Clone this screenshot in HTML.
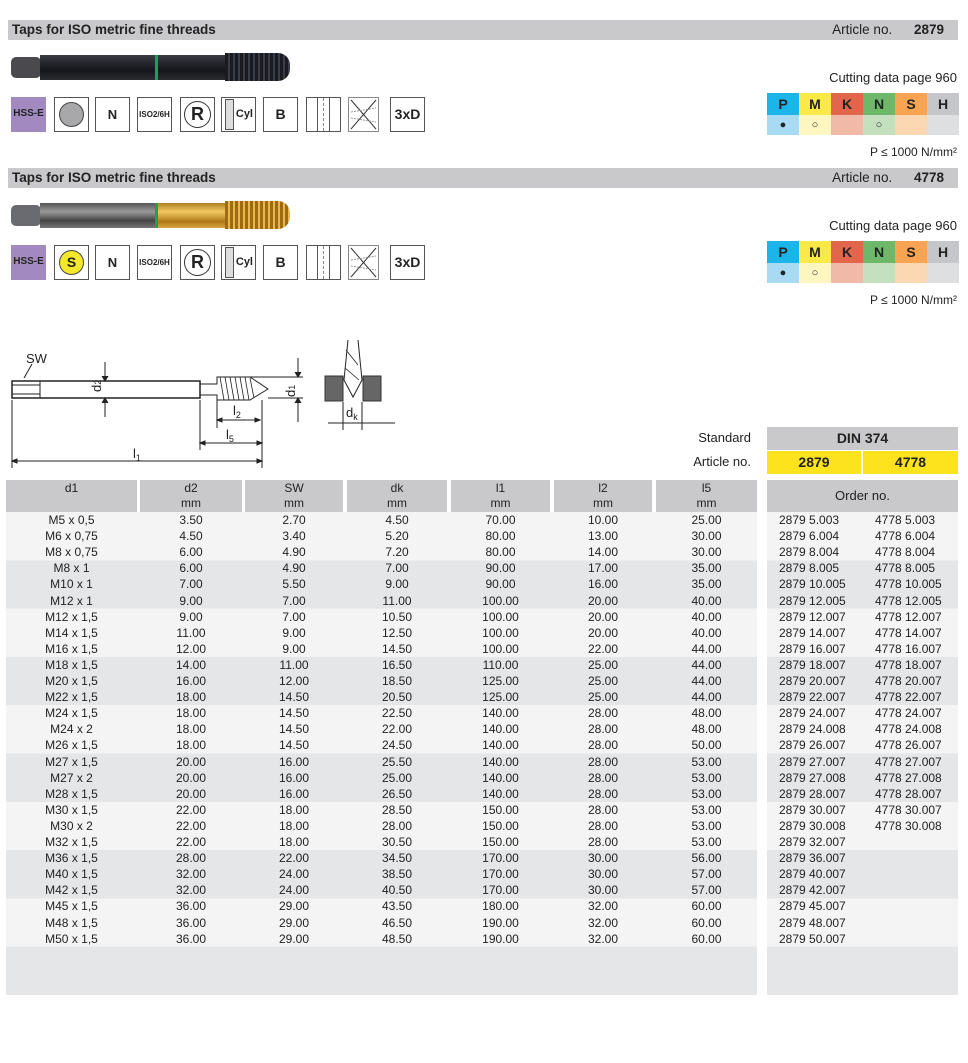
<!DOCTYPE html>
<html><head><meta charset="utf-8">
<style>
*{margin:0;padding:0;box-sizing:border-box}
body{width:968px;height:1063px;background:#fff;position:relative;font-family:"Liberation Sans",Arial,sans-serif;color:#222;overflow:hidden}
.a{position:absolute}
.bar{position:absolute;left:8px;width:950px;height:20px;background:#c9c9cb;font-size:13.5px;font-weight:bold;line-height:20px;padding-left:4px}
.bar span.r{position:absolute;right:14px;top:0;font-weight:normal}
.bar b{margin-left:18px}
.ic{position:absolute;width:35px;height:35px;border:1px solid #555;background:#fff;font-size:13px;font-weight:bold;text-align:center;line-height:33px}
.pm{position:absolute;left:767px;width:192px;height:42px}
.pm .c{position:absolute;width:32px;height:22px;text-align:center;font-weight:bold;font-size:14px;line-height:22px;top:0}
.pm .d{position:absolute;width:32px;height:20px;top:22px;text-align:center;font-size:11px;line-height:20px}
.cd{position:absolute;right:11px;font-size:13px}
.row{position:absolute;left:6px;width:751px;height:16.1px;font-size:12px;line-height:16px}
.row span{position:absolute;top:0;text-align:center}
.ord{position:absolute;left:767px;width:191px;height:16.1px;font-size:12px;line-height:16px}
.ord span{position:absolute;top:0}
.hd{position:absolute;top:480px;height:32px;background:#c9c9cb;font-size:12px;text-align:center;line-height:15px;padding-top:1px}
</style></head><body>

<div class="bar" style="top:20px">Taps for ISO metric fine threads<span class="r">Article no. <b>2879</b></span></div>
<div class="bar" style="top:168px">Taps for ISO metric fine threads<span class="r">Article no. <b>4778</b></span></div>

<div class="a" style="left:11px;top:57px;width:30px;height:21px;background:#4a4a4e;border-radius:5px"></div>
<div class="a" style="left:40px;top:55px;width:185px;height:25px;background:linear-gradient(#3a3c44,#15161a 60%,#2a2b30)"></div>
<div class="a" style="left:155px;top:55px;width:3px;height:25px;background:#1ea14a"></div>
<div class="a" style="left:225px;top:53px;width:65px;height:28px;background:repeating-linear-gradient(90deg,#1a1b20 0 3px,#3a3c48 3px 5px);border-radius:0 12px 12px 0"></div>

<div class="a" style="left:11px;top:205px;width:30px;height:21px;background:#6a6b70;border-radius:5px"></div>
<div class="a" style="left:40px;top:203px;width:118px;height:25px;background:linear-gradient(#555,#9a9a9a 35%,#444 70%,#777)"></div>
<div class="a" style="left:155px;top:203px;width:3px;height:25px;background:#1ea14a"></div>
<div class="a" style="left:158px;top:203px;width:67px;height:25px;background:linear-gradient(#b08020,#f0c860 35%,#b07818 75%,#d8a840)"></div>
<div class="a" style="left:225px;top:201px;width:65px;height:28px;background:repeating-linear-gradient(90deg,#a06a10 0 3px,#e6b850 3px 5px);border-radius:0 12px 12px 0"></div>

<div class="ic" style="left:11px;top:97px;background:#a28ac0;border:none;font-size:10px">HSS-E</div>
<div class="ic" style="left:54px;top:97px"><div style="width:25px;height:25px;border-radius:50%;background:#a8a8aa;border:1px solid #444;margin:4px auto"></div></div>
<div class="ic" style="left:95px;top:97px">N</div>
<div class="ic" style="left:137px;top:97px;font-size:8px">ISO2/6H</div>
<div class="ic" style="left:180px;top:97px;font-size:18px"><div style="width:27px;height:27px;border:1px solid #333;border-radius:50%;margin:3px auto;line-height:25px">R</div></div>
<div class="ic" style="left:221px;top:97px;font-size:11px;text-align:right;padding-right:2px"><div style="position:absolute;left:3px;top:1px;width:9px;height:31px;border:1px solid #555;background:#ddd"></div>Cyl</div>
<div class="ic" style="left:263px;top:97px;font-size:14px">B</div>
<div class="ic" style="left:306px;top:97px"><div style="position:absolute;left:10px;top:0;width:13px;height:33px;border-left:1px solid #555;border-right:1px solid #555"></div><div style="position:absolute;left:16px;top:0;height:33px;border-left:1px dashed #888"></div></div>
<div class="ic" style="left:348px;top:97px;width:31px;border-color:#888"><svg width="29" height="33"><line x1="2" y1="2" x2="27" y2="31" stroke="#333"/><line x1="27" y1="2" x2="2" y2="31" stroke="#333"/><line x1="2" y1="14" x2="27" y2="10" stroke="#999" stroke-dasharray="2,1"/><line x1="2" y1="20" x2="27" y2="24" stroke="#999" stroke-dasharray="2,1"/></svg></div>
<div class="ic" style="left:390px;top:97px;font-size:14px">3xD</div>

<div class="ic" style="left:11px;top:245px;background:#a28ac0;border:none;font-size:10px">HSS-E</div>
<div class="ic" style="left:54px;top:245px"><div style="width:25px;height:25px;border-radius:50%;background:#f5e82a;border:1px solid #444;margin:4px auto;line-height:23px;font-size:14px">S</div></div>
<div class="ic" style="left:95px;top:245px">N</div>
<div class="ic" style="left:137px;top:245px;font-size:8px">ISO2/6H</div>
<div class="ic" style="left:180px;top:245px;font-size:18px"><div style="width:27px;height:27px;border:1px solid #333;border-radius:50%;margin:3px auto;line-height:25px">R</div></div>
<div class="ic" style="left:221px;top:245px;font-size:11px;text-align:right;padding-right:2px"><div style="position:absolute;left:3px;top:1px;width:9px;height:31px;border:1px solid #555;background:#ddd"></div>Cyl</div>
<div class="ic" style="left:263px;top:245px;font-size:14px">B</div>
<div class="ic" style="left:306px;top:245px"><div style="position:absolute;left:10px;top:0;width:13px;height:33px;border-left:1px solid #555;border-right:1px solid #555"></div><div style="position:absolute;left:16px;top:0;height:33px;border-left:1px dashed #888"></div></div>
<div class="ic" style="left:348px;top:245px;width:31px;border-color:#888"><svg width="29" height="33"><line x1="2" y1="2" x2="27" y2="31" stroke="#333"/><line x1="27" y1="2" x2="2" y2="31" stroke="#333"/><line x1="2" y1="14" x2="27" y2="10" stroke="#999" stroke-dasharray="2,1"/><line x1="2" y1="20" x2="27" y2="24" stroke="#999" stroke-dasharray="2,1"/></svg></div>
<div class="ic" style="left:390px;top:245px;font-size:14px">3xD</div>

<div class="cd" style="top:70px">Cutting data page 960</div>
<div class="pm" style="top:93px">
<div class="c" style="left:0;background:#1bb5ea">P</div><div class="c" style="left:32px;background:#fbe94a">M</div><div class="c" style="left:64px;background:#e2664c">K</div><div class="c" style="left:96px;background:#6db86a">N</div><div class="c" style="left:128px;background:#f8a452">S</div><div class="c" style="left:160px;background:#c5c6c9">H</div>
<div class="d" style="left:0;background:#a9daf3">●</div><div class="d" style="left:32px;background:#fdf6c0">○</div><div class="d" style="left:64px;background:#f0b9a8"></div><div class="d" style="left:96px;background:#c4e0bf">○</div><div class="d" style="left:128px;background:#fcd8b2"></div><div class="d" style="left:160px;background:#dedfe1"></div>
</div>
<div class="cd" style="top:145px;font-size:12px">P ≤ 1000 N/mm²</div>

<div class="cd" style="top:218px">Cutting data page 960</div>
<div class="pm" style="top:241px">
<div class="c" style="left:0;background:#1bb5ea">P</div><div class="c" style="left:32px;background:#fbe94a">M</div><div class="c" style="left:64px;background:#e2664c">K</div><div class="c" style="left:96px;background:#6db86a">N</div><div class="c" style="left:128px;background:#f8a452">S</div><div class="c" style="left:160px;background:#c5c6c9">H</div>
<div class="d" style="left:0;background:#a9daf3">●</div><div class="d" style="left:32px;background:#fdf6c0">○</div><div class="d" style="left:64px;background:#f0b9a8"></div><div class="d" style="left:96px;background:#c4e0bf"></div><div class="d" style="left:128px;background:#fcd8b2"></div><div class="d" style="left:160px;background:#dedfe1"></div>
</div>
<div class="cd" style="top:293px;font-size:12px">P ≤ 1000 N/mm²</div>

<svg class="a" style="left:0;top:340px" width="400" height="130" font-family="Liberation Sans,sans-serif" font-size="13" fill="none" stroke="#222" stroke-width="1">
<path d="M12 41 H200 V58 H12 Z" stroke-width="1.5"/>
<path d="M12 45 H40 M12 54 H40 M40 41 V58"/>
<path d="M200 44 H217 V37 H250 L268 49 L250 60 H217 V55 H200"/>
<g stroke-width="0.8"><path d="M220 37 L224 60 M225 37 L229 60 M230 37 L234 60 M235 37 L239 60 M240 37 L244 60 M245 37 L249 60 M250 38 L254 58"/></g>
<path d="M105 22 V40 M105 59 V77"/><path d="M102 36 L105 41 L108 36 M102 63 L105 58 L108 63" fill="#222"/>
<path d="M250 37 H303 M268 58 H303 M298 18 V37 M298 58 V82"/>
<path d="M295 32 L298 37 L301 32 M295 63 L298 58 L301 63" fill="#222"/>
<path d="M12 60 V128 M262 60 V128 M200 60 V110 M217 60 V88"/>
<path d="M217 80 H260 M200 103 H262 M12 121 H262"/>
<path d="M217 80 l5 -2 v4 z M260 80 l-5 -2 v4 z M200 103 l5 -2 v4 z M262 103 l-5 -2 v4 z M12 121 l5 -2 v4 z M262 121 l-5 -2 v4 z" fill="#222"/>
<path d="M24 38 L32 24"/>
<g fill="#222" stroke="none"><text x="26" y="23">SW</text><text x="101" y="52" transform="rotate(-90 101 52)">d<tspan font-size="9">2</tspan></text>
<text x="295" y="57" transform="rotate(-90 295 57)">d<tspan font-size="9">1</tspan></text>
<text x="233" y="75">l<tspan font-size="9" dy="3">2</tspan></text><text x="226" y="99">l<tspan font-size="9" dy="3">5</tspan></text><text x="133" y="118">l<tspan font-size="9" dy="3">1</tspan></text>
<text x="346" y="77">d<tspan font-size="9" dy="3">k</tspan></text></g>
<rect x="325" y="36" width="18" height="25" fill="#666" stroke="#333"/><rect x="363" y="36" width="18" height="25" fill="#666" stroke="#333"/>
<path d="M343 62 V90 M362 62 V90 M328 83 H395"/>
<path d="M348 0 L344 40 L353 57 L362 40 L358 0" stroke-width="1"/>
<path d="M346 10 L358 25 M345 28 L359 40" stroke-width="0.8"/>
</svg>

<div class="a" style="left:600px;top:430px;width:151px;text-align:right;font-size:13px">Standard</div>
<div class="a" style="left:600px;top:454px;width:151px;text-align:right;font-size:13px">Article no.</div>
<div class="a" style="left:767px;top:427px;width:191px;height:23px;background:#c9c9cb;text-align:center;font-weight:bold;font-size:14px;line-height:23px">DIN 374</div>
<div class="a" style="left:767px;top:451px;width:94px;height:23px;background:#fde21e;text-align:center;font-weight:bold;font-size:14px;line-height:23px">2879</div>
<div class="a" style="left:863px;top:451px;width:95px;height:23px;background:#fde21e;text-align:center;font-weight:bold;font-size:14px;line-height:23px">4778</div>

<div class="hd" style="left:6px;width:131px">d1</div>
<div class="hd" style="left:140px;width:102px">d2<br>mm</div>
<div class="hd" style="left:245px;width:98px">SW<br>mm</div>
<div class="hd" style="left:347px;width:100px">dk<br>mm</div>
<div class="hd" style="left:451px;width:99px">l1<br>mm</div>
<div class="hd" style="left:554px;width:98px">l2<br>mm</div>
<div class="hd" style="left:656px;width:101px">l5<br>mm</div>
<div class="hd" style="left:767px;width:191px;line-height:30px;font-size:13px">Order no.</div>

<div class="a" style="left:6px;top:512px;width:751px;height:435px;background:repeating-linear-gradient(#f4f4f5 0 48.3px,#e5e6e8 48.3px 96.6px)"></div>
<div class="a" style="left:767px;top:512px;width:191px;height:435px;background:repeating-linear-gradient(#f4f4f5 0 48.3px,#e5e6e8 48.3px 96.6px)"></div>
<div class="a" style="left:6px;top:947px;width:751px;height:48px;background:#e5e6e8"></div>
<div class="a" style="left:767px;top:947px;width:191px;height:48px;background:#e5e6e8"></div>

<div id="rows"></div>
<script>
var d=[
["M5 x 0,5","3.50","2.70","4.50","70.00","10.00","25.00","2879 5.003","4778 5.003"],
["M6 x 0,75","4.50","3.40","5.20","80.00","13.00","30.00","2879 6.004","4778 6.004"],
["M8 x 0,75","6.00","4.90","7.20","80.00","14.00","30.00","2879 8.004","4778 8.004"],
["M8 x 1","6.00","4.90","7.00","90.00","17.00","35.00","2879 8.005","4778 8.005"],
["M10 x 1","7.00","5.50","9.00","90.00","16.00","35.00","2879 10.005","4778 10.005"],
["M12 x 1","9.00","7.00","11.00","100.00","20.00","40.00","2879 12.005","4778 12.005"],
["M12 x 1,5","9.00","7.00","10.50","100.00","20.00","40.00","2879 12.007","4778 12.007"],
["M14 x 1,5","11.00","9.00","12.50","100.00","20.00","40.00","2879 14.007","4778 14.007"],
["M16 x 1,5","12.00","9.00","14.50","100.00","22.00","44.00","2879 16.007","4778 16.007"],
["M18 x 1,5","14.00","11.00","16.50","110.00","25.00","44.00","2879 18.007","4778 18.007"],
["M20 x 1,5","16.00","12.00","18.50","125.00","25.00","44.00","2879 20.007","4778 20.007"],
["M22 x 1,5","18.00","14.50","20.50","125.00","25.00","44.00","2879 22.007","4778 22.007"],
["M24 x 1,5","18.00","14.50","22.50","140.00","28.00","48.00","2879 24.007","4778 24.007"],
["M24 x 2","18.00","14.50","22.00","140.00","28.00","48.00","2879 24.008","4778 24.008"],
["M26 x 1,5","18.00","14.50","24.50","140.00","28.00","50.00","2879 26.007","4778 26.007"],
["M27 x 1,5","20.00","16.00","25.50","140.00","28.00","53.00","2879 27.007","4778 27.007"],
["M27 x 2","20.00","16.00","25.00","140.00","28.00","53.00","2879 27.008","4778 27.008"],
["M28 x 1,5","20.00","16.00","26.50","140.00","28.00","53.00","2879 28.007","4778 28.007"],
["M30 x 1,5","22.00","18.00","28.50","150.00","28.00","53.00","2879 30.007","4778 30.007"],
["M30 x 2","22.00","18.00","28.00","150.00","28.00","53.00","2879 30.008","4778 30.008"],
["M32 x 1,5","22.00","18.00","30.50","150.00","28.00","53.00","2879 32.007",""],
["M36 x 1,5","28.00","22.00","34.50","170.00","30.00","56.00","2879 36.007",""],
["M40 x 1,5","32.00","24.00","38.50","170.00","30.00","57.00","2879 40.007",""],
["M42 x 1,5","32.00","24.00","40.50","170.00","30.00","57.00","2879 42.007",""],
["M45 x 1,5","36.00","29.00","43.50","180.00","32.00","60.00","2879 45.007",""],
["M48 x 1,5","36.00","29.00","46.50","190.00","32.00","60.00","2879 48.007",""],
["M50 x 1,5","36.00","29.00","48.50","190.00","32.00","60.00","2879 50.007",""]];
var cols=[[0,131],[134,102],[239,98],[341,100],[445,99],[548,98],[650,101]];
var h="";
for(var i=0;i<d.length;i++){var t=(512+i*16.1).toFixed(1);
h+='<div class="row" style="top:'+t+'px">';
for(var j=0;j<7;j++)h+='<span style="left:'+cols[j][0]+'px;width:'+cols[j][1]+'px">'+d[i][j]+'</span>';
h+='</div><div class="ord" style="top:'+t+'px"><span style="left:12px">'+d[i][7]+'</span><span style="left:108px">'+d[i][8]+'</span></div>';}
document.getElementById("rows").innerHTML=h;
</script>
</body></html>
